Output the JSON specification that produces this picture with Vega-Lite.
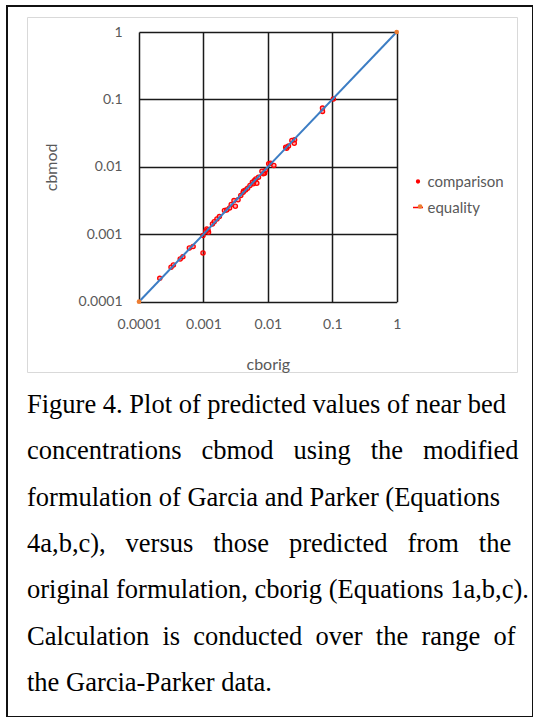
{
  "$schema": "https://vega.github.io/schema/vega-lite/v6.json",
  "width": 526,
  "height": 711,
  "autosize": {"type": "none"},
  "padding": {"left": 7, "top": 6, "right": 0, "bottom": 0},
  "background": "#ffffff",
  "config": {
    "view": {"stroke": "#111111", "strokeWidth": 2},
    "axis": {"labelFont": "Lato", "labelFontSize": 14, "labelColor": "#595959", "titleFont": "Lato", "titleFontSize": 16, "titleFontWeight": "normal", "titleColor": "#595959"}
  },
  "datasets": {
    "comparison": [
      {"cborig": 0.00021, "cbmod": 0.000222}, {"cborig": 0.000314, "cbmod": 0.000324}, {"cborig": 0.000342, "cbmod": 0.000351},
      {"cborig": 0.000436, "cbmod": 0.00043}, {"cborig": 0.00048, "cbmod": 0.000466}, {"cborig": 0.000605, "cbmod": 0.000627},
      {"cborig": 0.000692, "cbmod": 0.000656}, {"cborig": 0.000985, "cbmod": 0.000528}, {"cborig": 0.000985, "cbmod": 0.000955},
      {"cborig": 0.00109, "cbmod": 0.00111}, {"cborig": 0.00118, "cbmod": 0.00116}, {"cborig": 0.00113, "cbmod": 0.0012},
      {"cborig": 0.0012, "cbmod": 0.00107}, {"cborig": 0.00138, "cbmod": 0.00142}, {"cborig": 0.00147, "cbmod": 0.00154},
      {"cborig": 0.00162, "cbmod": 0.00169}, {"cborig": 0.00177, "cbmod": 0.00183}, {"cborig": 0.00212, "cbmod": 0.00225},
      {"cborig": 0.0023, "cbmod": 0.0023}, {"cborig": 0.00255, "cbmod": 0.00246}, {"cborig": 0.0027, "cbmod": 0.00276},
      {"cborig": 0.00298, "cbmod": 0.00316}, {"cborig": 0.00313, "cbmod": 0.00261}, {"cborig": 0.00345, "cbmod": 0.00324},
      {"cborig": 0.0038, "cbmod": 0.00375}, {"cborig": 0.00414, "cbmod": 0.00421}, {"cborig": 0.0042, "cbmod": 0.0044},
      {"cborig": 0.00451, "cbmod": 0.00455}, {"cborig": 0.00485, "cbmod": 0.00482}, {"cborig": 0.00528, "cbmod": 0.00528},
      {"cborig": 0.00575, "cbmod": 0.00592}, {"cborig": 0.00618, "cbmod": 0.00627}, {"cborig": 0.0065, "cbmod": 0.0066},
      {"cborig": 0.00674, "cbmod": 0.00572}, {"cborig": 0.00716, "cbmod": 0.00703}, {"cborig": 0.00596, "cbmod": 0.0056},
      {"cborig": 0.00809, "cbmod": 0.00863}, {"cborig": 0.0085, "cbmod": 0.0079}, {"cborig": 0.00891, "cbmod": 0.00805},
      {"cborig": 0.00913, "cbmod": 0.00883}, {"cborig": 0.0103, "cbmod": 0.0111}, {"cborig": 0.011, "cbmod": 0.0113},
      {"cborig": 0.0124, "cbmod": 0.0105}, {"cborig": 0.0189, "cbmod": 0.0196}, {"cborig": 0.0209, "cbmod": 0.0203},
      {"cborig": 0.0196, "cbmod": 0.0189}, {"cborig": 0.0236, "cbmod": 0.0246}, {"cborig": 0.026, "cbmod": 0.0252},
      {"cborig": 0.0257, "cbmod": 0.0224}, {"cborig": 0.0705, "cbmod": 0.0743}, {"cborig": 0.0705, "cbmod": 0.0664},
      {"cborig": 0.104, "cbmod": 0.1016}
    ],
    "equality": [
      {"cborig": 0.0001, "cbmod": 0.0001},
      {"cborig": 1, "cbmod": 1}
    ]
  },
  "title": {
    "text": [
      "Figure 4. Plot of predicted values of near bed",
      "concentrations \u00a0\u00a0cbmod \u00a0\u00a0using \u00a0\u00a0the \u00a0\u00a0modified",
      "formulation of Garcia and Parker (Equations",
      "4a,b,c), \u00a0\u00a0versus \u00a0\u00a0those \u00a0\u00a0predicted \u00a0\u00a0from \u00a0\u00a0the",
      "original formulation, cborig (Equations 1a,b,c).",
      "Calculation \u00a0is \u00a0conducted \u00a0over \u00a0the \u00a0range \u00a0of",
      "the Garcia-Parker data."
    ],
    "orient": "bottom",
    "anchor": "start",
    "frame": "group",
    "offset": -304,
    "dx": 20,
    "baseline": "alphabetic",
    "font": "Liberation Serif",
    "fontSize": 26.5,
    "fontWeight": "normal",
    "color": "#000000",
    "lineHeight": 46.3
  },
  "resolve": {"scale": {"x": "independent", "y": "independent"}},
  "layer": [
    {
      "data": {"name": "equality"},
      "mark": {"type": "point", "opacity": 0},
      "encoding": {
        "x": {"field": "cborig", "type": "quantitative",
          "scale": {"type": "log", "domain": [0.0001, 1], "range": [20, 510], "nice": false},
          "axis": {"orient": "top", "values": [0.0001, 1], "grid": true, "gridColor": "#D9D9D9", "gridWidth": 1, "labels": false, "ticks": false, "domain": false, "title": null}},
        "y": {"field": "cbmod", "type": "quantitative",
          "scale": {"type": "log", "domain": [0.0001, 1], "range": [366, 11], "nice": false},
          "axis": {"orient": "left", "values": [0.0001, 1], "grid": true, "gridColor": "#D9D9D9", "gridWidth": 1, "labels": false, "ticks": false, "domain": false, "title": null}}
      }
    },
    {
      "data": {"name": "equality"},
      "mark": {"type": "point", "opacity": 0},
      "encoding": {
        "x": {"field": "cborig", "type": "quantitative",
          "scale": {"type": "log", "domain": [0.0001, 1], "range": [132, 389.7], "nice": false},
          "axis": {"orient": "top", "values": [0.0001, 0.001, 0.01, 0.1, 1], "grid": true, "gridColor": "#1a1a1a", "gridWidth": 1.5, "gridOpacity": 1, "labels": false, "ticks": false, "domain": false, "title": null}},
        "y": {"field": "cbmod", "type": "quantitative",
          "scale": {"type": "log", "domain": [0.0001, 1], "range": [295.7, 26], "nice": false},
          "axis": null}
      }
    },
    {
      "layer": [
        {
          "data": {"name": "comparison"},
          "mark": {"type": "point", "filled": true, "fill": "#FF0000", "fillOpacity": 0.35, "stroke": "#FF0000", "strokeWidth": 1.3, "strokeOpacity": 1, "size": 225, "opacity": 1},
          "encoding": {
            "x": {"field": "cborig", "type": "quantitative",
              "scale": {"type": "log", "domain": [0.0001, 1], "range": [132, 389.7], "nice": false},
              "axis": {"orient": "bottom", "offset": -415.3, "values": [0.0001, 0.001, 0.01, 0.1, 1], "format": "~g", "grid": false, "ticks": false, "tickSize": 0, "domain": false, "labelPadding": 16, "labelFlush": false, "labelOverlap": false, "title": "cborig", "titlePadding": 25}},
            "y": {"field": "cbmod", "type": "quantitative",
              "scale": {"type": "log", "domain": [0.0001, 1], "range": [295.7, 26], "nice": false},
              "axis": {"orient": "left", "offset": -132, "values": [0.0001, 0.001, 0.01, 0.1, 1], "format": "~g", "grid": true, "gridColor": "#1a1a1a", "gridWidth": 1.5, "gridOpacity": 1, "ticks": false, "tickSize": 0, "domain": false, "labelPadding": 17, "labelFlush": false, "labelOverlap": false, "title": "cbmod", "titlePadding": 19}},
            "shape": {"datum": "comparison",
              "scale": {"domain": ["comparison", "equality"], "range": ["M-0.28,0A0.28,0.28 0 1,0 0.28,0A0.28,0.28 0 1,0 -0.28,0Z", "M-1,0L1,0"]},
              "legend": {"orient": "none", "legendX": 403.5, "legendY": 168, "title": null, "padding": 0, "rowPadding": 10, "labelOffset": 2,
                "labelFont": "Lato", "labelFontSize": 15, "labelColor": "#595959",
                "encode": {"symbols": {
                  "fill": {"signal": "datum.value === 'comparison' ? '#FF0000' : 'transparent'"},
                  "stroke": {"signal": "datum.value === 'comparison' ? '#FF0000' : '#3C7DC4'"},
                  "strokeWidth": {"signal": "datum.value === 'comparison' ? 0.6 : 2"},
                  "size": {"value": 225},
                  "opacity": {"value": 1}, "fillOpacity": {"value": 1}, "strokeOpacity": {"value": 1}
                }}}}
          }
        },
        {
          "data": {"name": "equality"},
          "mark": {"type": "line", "stroke": "#3C7DC4", "strokeWidth": 2},
          "encoding": {
            "x": {"field": "cborig", "type": "quantitative", "scale": {"type": "log", "domain": [0.0001, 1], "range": [132, 389.7], "nice": false}},
            "y": {"field": "cbmod", "type": "quantitative", "scale": {"type": "log", "domain": [0.0001, 1], "range": [295.7, 26], "nice": false}}
          }
        },
        {
          "data": {"name": "equality"},
          "mark": {"type": "point", "filled": true, "size": 22, "opacity": 1},
          "encoding": {
            "x": {"field": "cborig", "type": "quantitative", "scale": {"type": "log", "domain": [0.0001, 1], "range": [132, 389.7], "nice": false}},
            "y": {"field": "cbmod", "type": "quantitative", "scale": {"type": "log", "domain": [0.0001, 1], "range": [295.7, 26], "nice": false}},
            "color": {"datum": "equality", "scale": {"domain": ["equality"], "range": ["#ED7D31"]},
              "legend": {"orient": "none", "legendX": 405.6, "legendY": 193, "title": null, "padding": 0, "labelExpr": "''", "labelFont": "Lato", "labelFontSize": 15, "symbolSize": 22, "symbolType": "circle"}}
          }
        }
      ]
    }
  ]
}
